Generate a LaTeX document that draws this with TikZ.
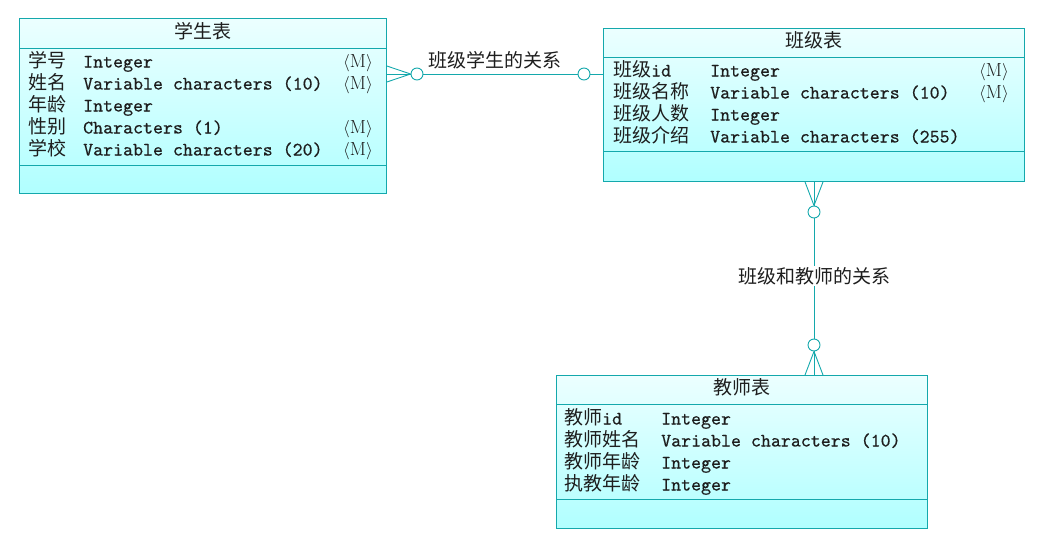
\documentclass[tikz,border=0pt]{standalone}
\usepackage{fontspec}
\newfontfamily\cjk{Noto Sans CJK SC}
\newfontfamily\mono{lmmono10-regular.otf}[FakeBold=0.4]
\usetikzlibrary{calc}
\definecolor{edge}{RGB}{20,168,172}
\definecolor{topc}{RGB}{236,255,255}
\definecolor{botc}{RGB}{176,255,255}
\definecolor{ink}{RGB}{30,30,30}
\newcommand\mk{$\langle$\textrm{M}$\rangle$}
\begin{document}
\begin{tikzpicture}[x=1pt,y=-1pt,
  tbl/.style={draw=edge, line width=0.9pt, top color=topc, bottom color=botc, inner sep=0, anchor=north west},
  sep/.style={draw=edge, line width=0.9pt},
  conn/.style={draw=edge, line width=0.9pt},
  circ/.style={circle, draw=edge, line width=0.9pt, fill=white, minimum size=12pt, inner sep=0},
  txt/.style={anchor=base west, inner sep=0, text=ink, font=\fontsize{19}{22}\selectfont},
  ttl/.style={anchor=base, inner sep=0, text=ink, font=\fontsize{19}{22}\selectfont\cjk},
  lbl/.style={inner sep=1pt, fill=white, text=ink, font=\fontsize{19}{22}\selectfont\cjk}]
\useasboundingbox (0,0) rectangle (1055,541);

% ---------- student table
\node[tbl, minimum width=367pt, minimum height=175pt] (stu) at (19,18) {};
\draw[sep] ($(stu.north west)+(0,30)$) -- ($(stu.north east)+(0,30)$);
\draw[sep] ($(stu.north west)+(0,147)$) -- ($(stu.north east)+(0,147)$);
\node[ttl] (stuT) at (202.5,38.5) {学生表};
\foreach \n/\t/\m [count=\i from 0] in {学号/Integer/\mk, 姓名/Variable characters (10)/\mk, 年龄/Integer/, 性别/Characters (1)/\mk, 学校/Variable characters (20)/\mk}{
  \node[txt] (stuN\i) at (28,67.5+22*\i) {\cjk \n};
  \node[txt] (stuY\i) at (83,67.5+22*\i) {\mono \t};
  \node[txt] (stuM\i) at (343,67.5+22*\i) {\m};
}

% ---------- class table
\node[tbl, minimum width=421pt, minimum height=153pt] (cls) at (603,28) {};
\draw[sep] ($(cls.north west)+(0,29)$) -- ($(cls.north east)+(0,29)$);
\draw[sep] ($(cls.north west)+(0,123)$) -- ($(cls.north east)+(0,123)$);
\node[ttl] (clsT) at (813.5,47.5) {班级表};
\node[txt] (clsN0) at (613,76.5) {{\cjk 班级}\mono id};
\node[txt] (clsN1) at (613,98.5) {\cjk 班级名称};
\node[txt] (clsN2) at (613,120.5) {\cjk 班级人数};
\node[txt] (clsN3) at (613,142.5) {\cjk 班级介绍};
\node[txt] (clsY0) at (710,76.5) {\mono Integer};
\node[txt] (clsY1) at (710,98.5) {\mono Variable characters (10)};
\node[txt] (clsY2) at (710,120.5) {\mono Integer};
\node[txt] (clsY3) at (710,142.5) {\mono Variable characters (255)};
\node[txt] (clsM0) at (979,76.5) {\mk};
\node[txt] (clsM1) at (979,98.5) {\mk};

% ---------- teacher table
\node[tbl, minimum width=371pt, minimum height=153pt] (tea) at (556,375) {};
\draw[sep] ($(tea.north west)+(0,29)$) -- ($(tea.north east)+(0,29)$);
\draw[sep] ($(tea.north west)+(0,124)$) -- ($(tea.north east)+(0,124)$);
\node[ttl] (teaT) at (741.5,394.5) {教师表};
\node[txt] (teaN0) at (564,424.5) {{\cjk 教师}\mono id};
\node[txt] (teaN1) at (564,446.5) {\cjk 教师姓名};
\node[txt] (teaN2) at (564,468.5) {\cjk 教师年龄};
\node[txt] (teaN3) at (564,490.5) {\cjk 执教年龄};
\node[txt] (teaY0) at (661,424.5) {\mono Integer};
\node[txt] (teaY1) at (661,446.5) {\mono Variable characters (10)};
\node[txt] (teaY2) at (661,468.5) {\mono Integer};
\node[txt] (teaY3) at (661,490.5) {\mono Integer};

% ---------- relation student - class
\coordinate (r1) at (0,74);
\node[circ] (c1) at (417,74) {};
\node[circ] (c2) at (584,74) {};
\draw[conn] (stu.east |- r1) -- (c1.west);
\draw[conn] ($(stu.east |- r1)+(0,-8)$) -- (c1.west);
\draw[conn] ($(stu.east |- r1)+(0,8)$) -- (c1.west);
\draw[conn] (c1.east) -- (c2.west);
\draw[conn] (c2.east) -- (cls.west |- r1);
\node[lbl, fill=none] (l1) at (494.5,60) {班级学生的关系};

% ---------- relation class - teacher
\node[circ] (c3) at (814,212) {};
\node[circ] (c4) at (814,345) {};
\coordinate (t1) at (tea.north -| c3);
\coordinate (s1) at (cls.south -| c3);
\draw[conn] (s1) -- (c3.north);
\draw[conn] ($(s1)+(-9,0)$) -- (c3.north);
\draw[conn] ($(s1)+(9,0)$) -- (c3.north);
\draw[conn] (c3.south) -- (c4.north);
\draw[conn] (c4.south) -- (t1);
\draw[conn] (c4.south) -- ($(t1)+(-9,0)$);
\draw[conn] (c4.south) -- ($(t1)+(9,0)$);
\node[lbl] (l2) at (814,276) {班级和教师的关系};
\end{tikzpicture}
\end{document}
